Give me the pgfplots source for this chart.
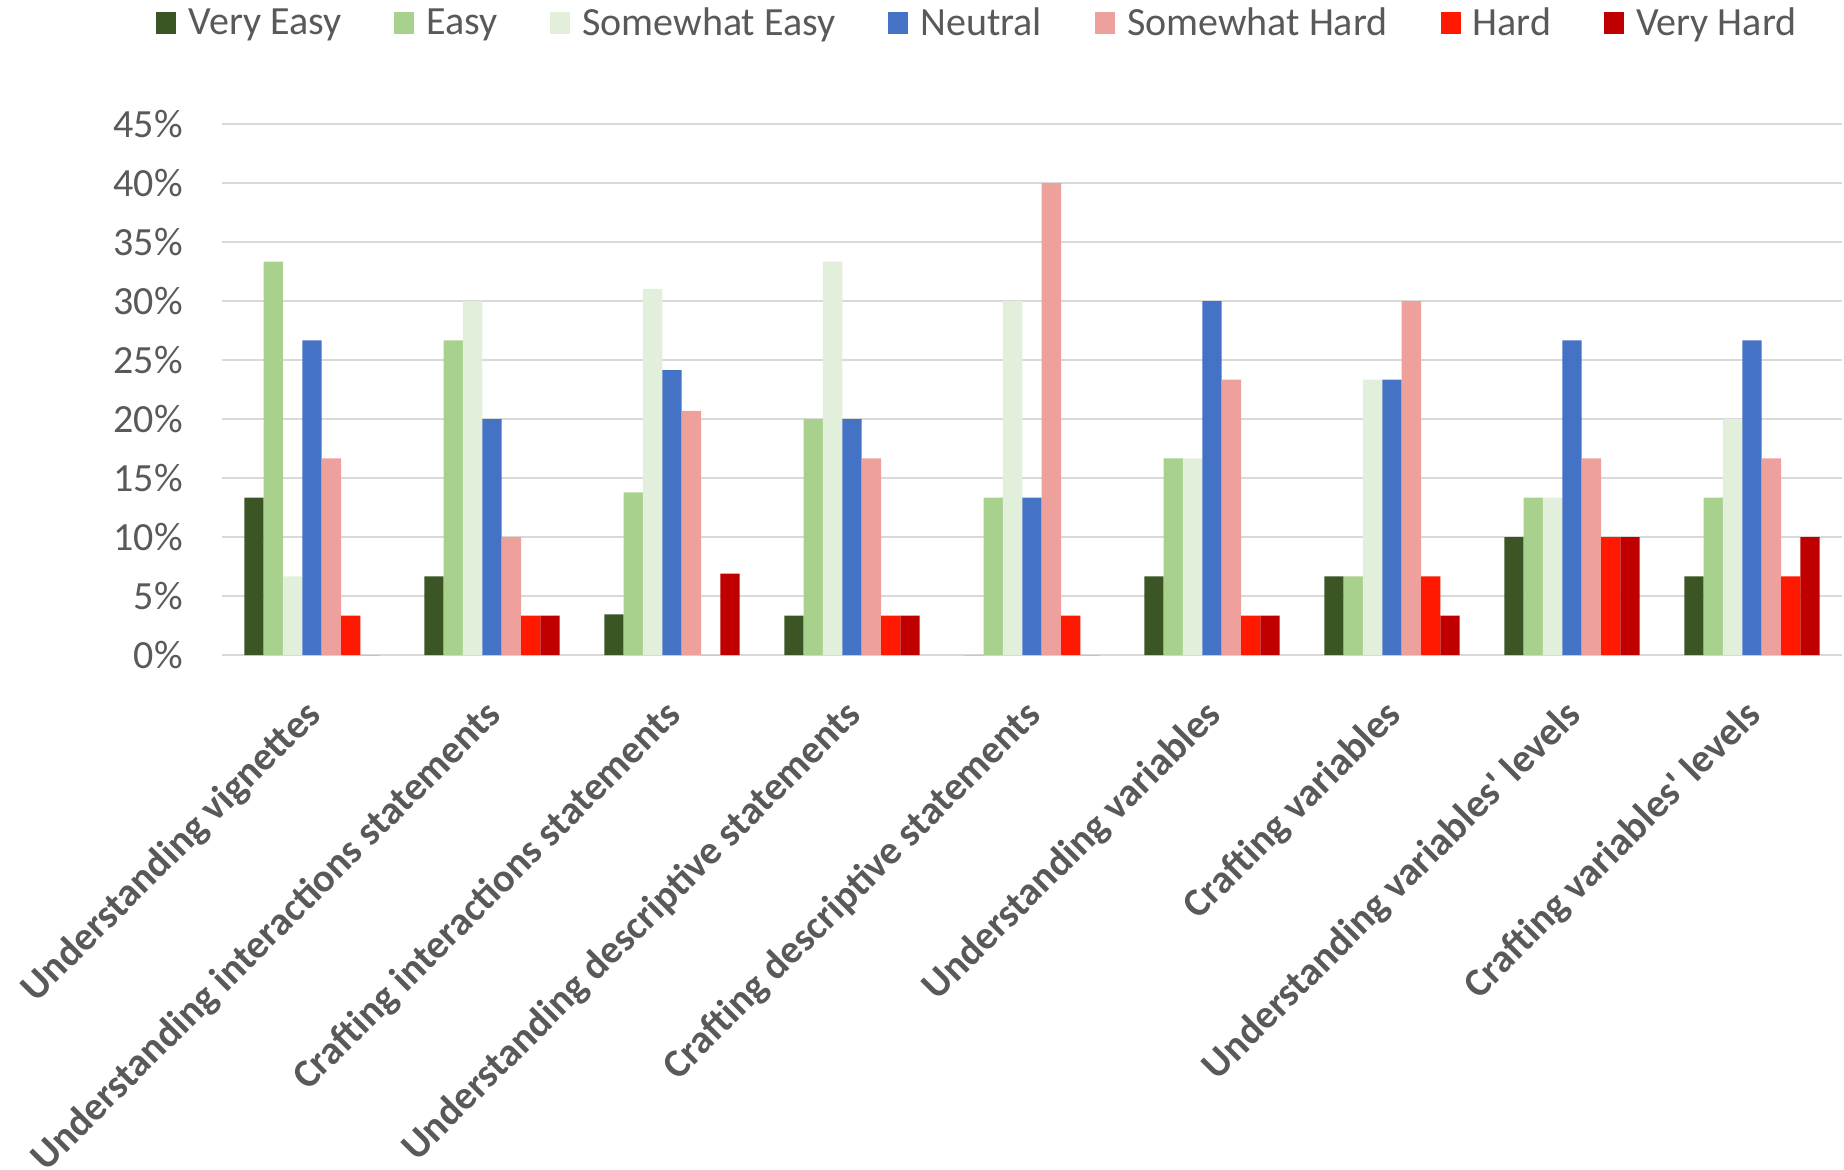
\documentclass[border=0pt]{standalone}
\usepackage{pgfplots}
\pgfplotsset{compat=1.18}
\usepackage{pgfplotstable}
\usepackage{fontspec}
\setmainfont{Carlito}
\definecolor{cVE}{HTML}{3B5624}
\definecolor{cE}{HTML}{A9D18E}
\definecolor{cSE}{HTML}{E2EFDA}
\definecolor{cN}{HTML}{4472C4}
\definecolor{cSH}{HTML}{EDA09C}
\definecolor{cH}{HTML}{FF1900}
\definecolor{cVH}{HTML}{C00000}
\definecolor{txt}{HTML}{595959}
\definecolor{gridc}{HTML}{D9D9D9}
\pgfplotstableread{
x VE E SE N SH H VH
0 13.33 33.33 6.67 26.67 16.67 3.33 0
1 6.67 26.67 30.00 20.00 10.00 3.33 3.33
2 3.45 13.79 31.03 24.14 20.69 0 6.90
3 3.33 20.00 33.33 20.00 16.67 3.33 3.33
4 0 13.33 30.00 13.33 40.00 3.33 0
5 6.67 16.67 16.67 30.00 23.33 3.33 3.33
6 6.67 6.67 23.33 23.33 30.00 6.67 3.33
7 10.00 13.33 13.33 26.67 16.67 10.00 10.00
8 6.67 13.33 20.00 26.67 16.67 6.67 10.00
}\data
\begin{document}
\begin{tikzpicture}
\path[use as bounding box] (0,0) rectangle (922pt,-585pt);
\begin{axis}[
  at={(111pt,-327.5pt)}, anchor=south west,
  scale only axis, width=810pt, height=265.5pt,
  xmin=-0.5, xmax=8.5, ymin=0, ymax=45,
  ybar=0pt, bar width=9.67pt,
  axis line style={draw=none},
  ymajorgrids, grid style={color=gridc, line width=1pt},
  major tick length=0pt,
  ytick={0,5,...,45},
  yticklabel={\pgfmathprintnumber{\tick}\%},
  xtick={0,...,8},
  xticklabels={Understanding vignettes, Understanding interactions statements, Crafting interactions statements, Understanding descriptive statements, Crafting descriptive statements, Understanding variables, Crafting variables, Understanding variables\textquotesingle\ levels, Crafting variables\textquotesingle\ levels},
  /pgf/number format/assume math mode=true,
  ticklabel style={text=txt, font=\fontsize{20}{24}\selectfont},
  yticklabel style={anchor=east, inner sep=0pt, xshift=-19.5pt},
  xticklabel style={rotate=45, anchor=north east, inner sep=0pt, font=\fontsize{20}{24}\selectfont\bfseries, xshift=-17.9pt, yshift=-11.4pt},
  legend columns=7,
  legend style={draw=none, fill=none, inner sep=0pt, at={(-0.0407,1.19)}, anchor=west,
    font=\fontsize{20}{24}\selectfont,
    nodes={inner sep=0pt, text=txt},
    /tikz/every odd column/.append style={column sep=6pt},
    /tikz/every even column/.append style={column sep=26.5pt}},
  legend image code/.code={\fill[#1] (0pt,-5.5pt) rectangle (10pt,5.5pt);},
]
\addplot[fill=cVE, draw=none] table[x=x, y=VE] {\data};
\addplot[fill=cE, draw=none] table[x=x, y=E] {\data};
\addplot[fill=cSE, draw=none] table[x=x, y=SE] {\data};
\addplot[fill=cN, draw=none] table[x=x, y=N] {\data};
\addplot[fill=cSH, draw=none] table[x=x, y=SH] {\data};
\addplot[fill=cH, draw=none] table[x=x, y=H] {\data};
\addplot[fill=cVH, draw=none] table[x=x, y=VH] {\data};
\legend{Very Easy, Easy, Somewhat Easy, Neutral, Somewhat Hard, Hard, Very Hard}
\end{axis}
\end{tikzpicture}
\end{document}
